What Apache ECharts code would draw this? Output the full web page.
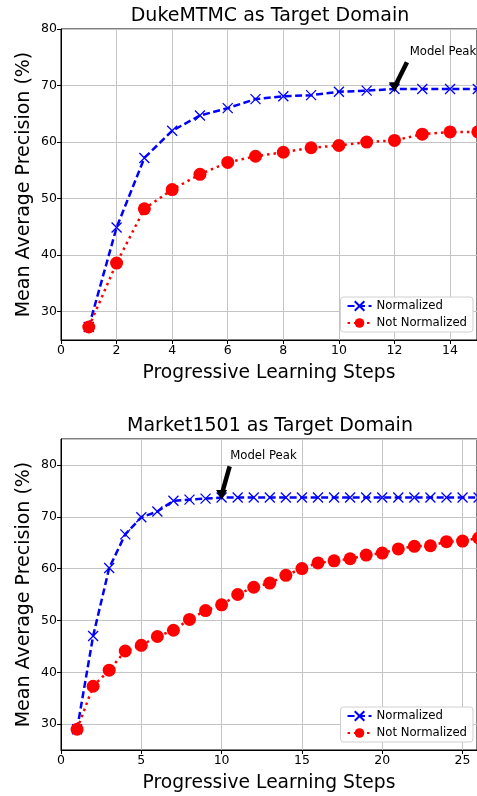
<!DOCTYPE html>
<html>
<head>
<meta charset="utf-8">
<script src="https://cdn.jsdelivr.net/npm/echarts@6/dist/echarts.min.js"></script>
<style>
  html, body { margin: 0; padding: 0; background: #fff; }
  #main { width: 477px; height: 796px; }
</style>
</head>
<body>
<div id="main"></div>
<script>
// DukeMTMC as target domain
var dukeSteps = [1, 2, 3, 4, 5, 6, 7, 8, 9, 10, 11, 12, 13, 14, 15];
var dukeNorm = [27.3, 44.9, 57.2, 62.0, 64.7, 66.0, 67.6, 68.1, 68.3, 68.9, 69.1, 69.4, 69.4, 69.4, 69.4];
var dukeNotNorm = [27.3, 38.6, 48.2, 51.6, 54.3, 56.4, 57.5, 58.2, 59.0, 59.4, 60.0, 60.3, 61.4, 61.8, 61.8];

// Market1501 as target domain
var marketSteps = [1, 2, 3, 4, 5, 6, 7, 8, 9, 10, 11, 12, 13, 14, 15, 16, 17, 18, 19, 20, 21, 22, 23, 24, 25, 26];
var marketNorm = [29.0, 47.0, 60.1, 66.6, 69.9, 71.0, 73.1, 73.3, 73.5, 73.7, 73.7, 73.7, 73.7, 73.7, 73.7, 73.7, 73.7, 73.7, 73.7, 73.7, 73.7, 73.7, 73.7, 73.7, 73.7, 73.7];
var marketNotNorm = [29.0, 37.3, 40.4, 44.1, 45.2, 46.9, 48.1, 50.2, 51.9, 53.0, 55.0, 56.4, 57.2, 58.7, 60.0, 61.1, 61.5, 61.9, 62.6, 63.0, 63.8, 64.3, 64.4, 65.2, 65.3, 65.9];

// annotations: [arrow start x, y, arrow tip x, y, text x, y]
var dukePeak = [12.45, 74.1, 12.0, 69.7, 12.53, 75.9];
var marketPeak = [10.5, 79.7, 10.0, 74.2, 10.5, 81.8];

var FONT = 'DejaVu Sans';
var chart = echarts.init(document.getElementById('main'));

function pairs(xs, ys) {
  var out = [];
  for (var i = 0; i < xs.length; i++) out.push([xs[i], ys[i]]);
  return out;
}

var xSymbol = 'path://M0,0L10,10M10,0L0,10';

function normSeries(idx, xs, ys, peak) {
  return {
    name: 'Normalized',
    type: 'line',
    xAxisIndex: idx,
    yAxisIndex: idx,
    data: pairs(xs, ys),
    clip: false,
    symbol: xSymbol,
    symbolSize: 10,
    showAllSymbol: true,
    itemStyle: { color: '#0000ff', borderColor: '#0000ff', borderWidth: 1.3 },
    lineStyle: { color: '#0000ff', width: 2.5, type: [7, 3.5] },
    animation: false,
    markLine: {
      silent: true,
      symbol: ['none', 'triangle'],
      symbolSize: [11, 10],
      symbolRotate: 180,
      label: { show: false },
      lineStyle: { color: '#000', width: 4.5, type: 'solid' },
      data: [[{ coord: [peak[0], peak[1]] }, { coord: [peak[2], peak[3]] }]]
    },
    markPoint: {
      silent: true,
      symbol: 'circle',
      symbolSize: 1,
      itemStyle: { color: 'rgba(0,0,0,0)' },
      label: {
        show: true, position: 'right', distance: 0,
        formatter: 'Model Peak', color: '#000', fontSize: 11.7, fontFamily: FONT
      },
      data: [{ coord: [peak[4], peak[5]] }]
    }
  };
}

function notNormSeries(idx, xs, ys) {
  return {
    name: 'Not Normalized',
    type: 'line',
    xAxisIndex: idx,
    yAxisIndex: idx,
    data: pairs(xs, ys),
    clip: false,
    symbol: 'circle',
    symbolSize: 13,
    showAllSymbol: true,
    itemStyle: { color: '#ff0000' },
    lineStyle: { color: '#ff0000', width: 2.5, type: [2.5, 4] },
    animation: false
  };
}

function xAxisOpt(idx, max, interval) {
  return {
    type: 'value', gridIndex: idx, min: 0, max: max, interval: interval,
    name: 'Progressive Learning Steps', nameLocation: 'middle', nameGap: 24,
    nameTextStyle: { fontSize: 18.7, fontFamily: FONT, color: '#000' },
    axisLine: { show: true, onZero: false, lineStyle: { color: '#000', width: 1 } },
    axisTick: { show: true, length: 4, lineStyle: { color: '#000' } },
    axisLabel: { color: '#000', fontSize: 12.5, fontFamily: FONT, margin: 4, showMaxLabel: false },
    splitLine: { show: true, lineStyle: { color: '#c4c4c4', width: 1 } }
  };
}

function yAxisOpt(idx, min, max, showMax) {
  return {
    type: 'value', gridIndex: idx, min: min, max: max, splitNumber: 5,
    name: 'Mean Average Precision (%)', nameLocation: 'middle', nameGap: 27,
    nameMoveOverlap: false,
    nameTextStyle: { fontSize: 19, fontFamily: FONT, color: '#000' },
    axisLine: { show: true, onZero: false, lineStyle: { color: '#000', width: 1 } },
    axisTick: { show: true, length: 4, lineStyle: { color: '#000' } },
    axisLabel: { color: '#000', fontSize: 12.5, fontFamily: FONT, margin: 4, showMinLabel: false, showMaxLabel: showMax },
    splitLine: { show: true, lineStyle: { color: '#c4c4c4', width: 1 } }
  };
}

function legendOpt(top) {
  return {
    orient: 'vertical', right: 4, top: top,
    data: ['Normalized', 'Not Normalized'],
    itemWidth: 24, itemHeight: 12, itemGap: 5,
    padding: [3, 6, 3, 6],
    backgroundColor: '#fff', borderColor: '#d0d0d0', borderWidth: 1, borderRadius: 3,
    textStyle: { fontSize: 11.7, fontFamily: FONT, color: '#000' },
    selectedMode: false
  };
}

var option = {
  backgroundColor: '#fff',
  animation: false,
  textStyle: { fontFamily: FONT },
  title: [
    { text: 'DukeMTMC as Target Domain', left: 270, top: 7, textAlign: 'center', padding: 0,
      textStyle: { fontSize: 19, fontWeight: 'normal', fontFamily: FONT, color: '#000' } },
    { text: 'Market1501 as Target Domain', left: 270, top: 417, textAlign: 'center', padding: 0,
      textStyle: { fontSize: 19, fontWeight: 'normal', fontFamily: FONT, color: '#000' } }
  ],
  legend: [legendOpt(297), legendOpt(707)],
  grid: [
    { left: 61, top: 29, width: 417, height: 311, show: true, borderColor: '#000', borderWidth: 1, backgroundColor: 'transparent' },
    { left: 61, top: 439, width: 417, height: 311, show: true, borderColor: '#000', borderWidth: 1, backgroundColor: 'transparent' }
  ],
  xAxis: [xAxisOpt(0, 14.97, 2), xAxisOpt(1, 25.9, 5)],
  yAxis: [yAxisOpt(0, 25, 80, true), yAxisOpt(1, 25, 85, false)],
  series: [
    normSeries(0, dukeSteps, dukeNorm, dukePeak),
    notNormSeries(0, dukeSteps, dukeNotNorm),
    normSeries(1, marketSteps, marketNorm, marketPeak),
    notNormSeries(1, marketSteps, marketNotNorm)
  ]
};

chart.setOption(option);
</script>
</body>
</html>
